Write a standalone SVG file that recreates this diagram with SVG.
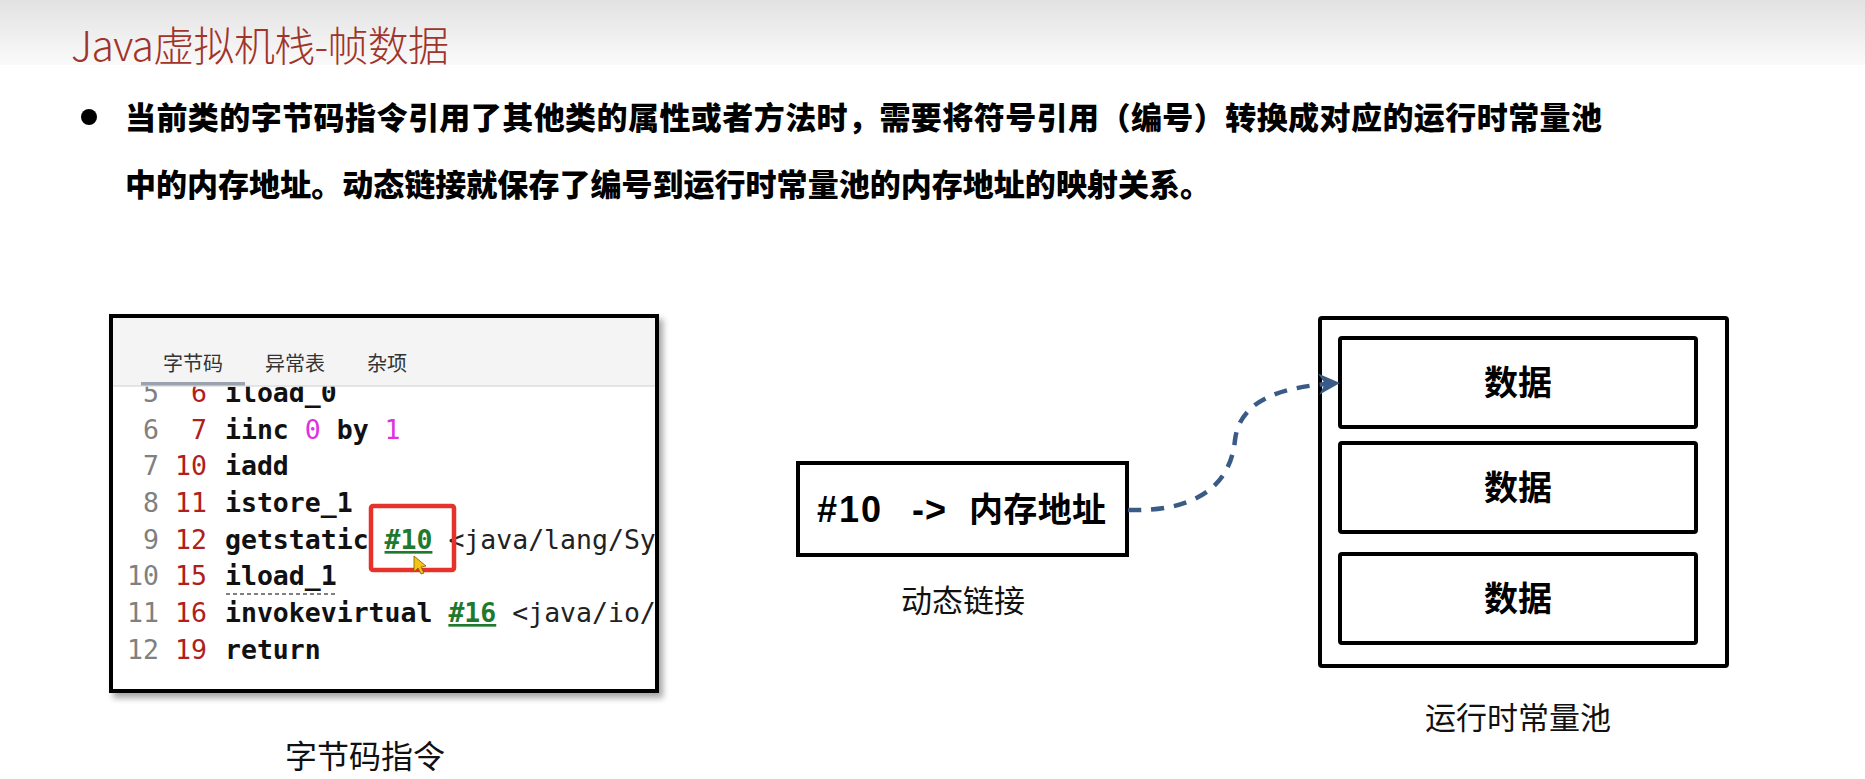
<svg xmlns="http://www.w3.org/2000/svg" width="1865" height="779" viewBox="0 0 1865 779">
<style>
.cjk{font-family:"Noto Sans CJK SC","Noto Sans",sans-serif;}
.b{font-weight:700;}
.hv{font-weight:900;}
.mono{font-family:"DejaVu Sans Mono","Liberation Mono",monospace;font-size:26.5px;}
.ln{fill:#808080;text-anchor:end;}
.off{fill:#b0201a;text-anchor:end;}
.ins{fill:#111;font-weight:700;}
.mag{fill:#e030e0;font-weight:400;}
.ref{fill:#1f7a2e;text-decoration:underline;}
.cls{fill:#222;font-weight:400;}
.box{fill:#fff;stroke:#000;stroke-width:4;}
.lbl{font-size:31px;fill:#111;text-anchor:middle;}
</style>
<defs>
<linearGradient id="topg" x1="0" y1="0" x2="0" y2="1">
<stop offset="0" stop-color="#e2e2e2"/>
<stop offset="1" stop-color="#fafafa"/>
</linearGradient>
<filter id="sh" x="-5%" y="-5%" width="112%" height="115%">
<feDropShadow dx="4" dy="5" stdDeviation="3" flood-color="#000" flood-opacity="0.35"/>
</filter>
<clipPath id="codeclip"><rect x="112" y="386" width="543" height="304"/></clipPath>
<marker id="arr" markerUnits="userSpaceOnUse" markerWidth="30" markerHeight="30" viewBox="-2 -14 26 28" refX="20" refY="0" orient="auto">
<path d="M0,-10 L20,0 L0,10 L6,0 Z" fill="#3a5b86"/>
</marker>
</defs>
<rect x="0" y="0" width="1865" height="779" fill="#fff"/>
<rect x="0" y="0" width="1865" height="65" fill="url(#topg)"/>

<g id="title">
<text x="71" y="61" class="cjk" font-size="41" font-weight="300" fill="#a0342a" textLength="378">Java虚拟机栈-帧数据</text>
</g>

<g id="bullet">
<circle cx="89" cy="117" r="8" fill="#000"/>
<text x="125" y="129" class="cjk hv" font-size="31" fill="#000" textLength="1477">当前类的字节码指令引用了其他类的属性或者方法时，需要将符号引用（编号）转换成对应的运行时常量池</text>
<text x="125" y="196" class="cjk hv" font-size="31" fill="#000" textLength="1086">中的内存地址。动态链接就保存了编号到运行时常量池的内存地址的映射关系。</text>
</g>

<g id="bytecode-panel">
<rect x="111" y="316" width="546" height="375" fill="#fff" stroke="#000" stroke-width="4" filter="url(#sh)"/>
<g clip-path="url(#codeclip)">
<g class="mono">
<text x="159" y="402" class="ln">5</text><text x="207" y="402" class="off">6</text><text x="225" y="402" class="ins">iload_0</text>
<text x="159" y="439" class="ln">6</text><text x="207" y="439" class="off">7</text><text x="225" y="439" class="ins">iinc <tspan class="mag">0</tspan> by <tspan class="mag">1</tspan></text>
<text x="159" y="475" class="ln">7</text><text x="207" y="475" class="off">10</text><text x="225" y="475" class="ins">iadd</text>
<text x="159" y="512" class="ln">8</text><text x="207" y="512" class="off">11</text><text x="225" y="512" class="ins">istore_1</text>
<text x="159" y="549" class="ln">9</text><text x="207" y="549" class="off">12</text><text x="225" y="549" class="ins">getstatic <tspan class="ref">#10</tspan> <tspan class="cls">&lt;java/lang/Sy</tspan></text>
<text x="159" y="585" class="ln">10</text><text x="207" y="585" class="off">15</text><text x="225" y="585" class="ins">iload_1</text>
<text x="159" y="622" class="ln">11</text><text x="207" y="622" class="off">16</text><text x="225" y="622" class="ins">invokevirtual <tspan class="ref">#16</tspan> <tspan class="cls">&lt;java/io/</tspan></text>
<text x="159" y="659" class="ln">12</text><text x="207" y="659" class="off">19</text><text x="225" y="659" class="ins">return</text>
</g>
<line x1="226" y1="594" x2="336" y2="594" stroke="#555" stroke-width="1.5" stroke-dasharray="4 3"/>
</g>
<rect x="113" y="318" width="542" height="68" fill="#f4f4f4"/>
<line x1="113" y1="386" x2="655" y2="386" stroke="#dedede" stroke-width="1.5"/>
<rect x="141" y="382" width="104" height="3.5" fill="#9aa3ad"/>
<text x="163" y="371" class="cjk" font-size="20" fill="#333">字节码</text>
<text x="265" y="371" class="cjk" font-size="20" fill="#333">异常表</text>
<text x="367" y="371" class="cjk" font-size="20" fill="#333">杂项</text>
<rect x="371" y="506" width="83" height="64" rx="2" fill="none" stroke="#e6322b" stroke-width="4.5"/>
<path d="M414,556 L414,572 L418,568 L421,574 L424,573 L421,567 L426,566 Z" fill="#f3c316" stroke="#7a5a00" stroke-width="0.8"/>
</g>
<g id="label-bytecode">
<text x="365" y="768" class="cjk" font-size="32" fill="#111" text-anchor="middle">字节码指令</text>
</g>

<g id="dynamic-link">
<rect x="798" y="463" width="329" height="92" class="box"/>
<text x="817" y="522" font-family="Liberation Sans, Arial, sans-serif" font-weight="700" font-size="36" fill="#000" textLength="64">#10</text>
<text x="912" y="522" font-family="Liberation Sans, Arial, sans-serif" font-weight="700" font-size="36" fill="#000" textLength="34">-&gt;</text>
<text x="969" y="522" class="cjk b" font-size="34" fill="#000" textLength="137">内存地址</text>
<text x="963" y="612" class="cjk lbl">动态链接</text>
</g>

<g id="runtime-pool">
<rect x="1320" y="318" width="407" height="348" rx="2" class="box"/>
<g id="data1">
<rect x="1340" y="338" width="356" height="89" rx="2" class="box"/>
<text x="1518" y="395" class="cjk b" font-size="34" fill="#000" text-anchor="middle">数据</text>
</g>
<g id="data2">
<rect x="1340" y="443" width="356" height="89" rx="2" class="box"/>
<text x="1518" y="500" class="cjk b" font-size="34" fill="#000" text-anchor="middle">数据</text>
</g>
<g id="data3">
<rect x="1340" y="554" width="356" height="89" rx="2" class="box"/>
<text x="1518" y="611" class="cjk b" font-size="34" fill="#000" text-anchor="middle">数据</text>
</g>
<text x="1518" y="729" class="cjk lbl">运行时常量池</text>
</g>

<g id="connectors">
<path d="M1128,510 C1190,512 1230,490 1235,440 C1240,398 1285,386 1340,383" fill="none" stroke="#3a5b86" stroke-width="4.5" stroke-dasharray="13 10" marker-end="url(#arr)"/>
</g>
</svg>
